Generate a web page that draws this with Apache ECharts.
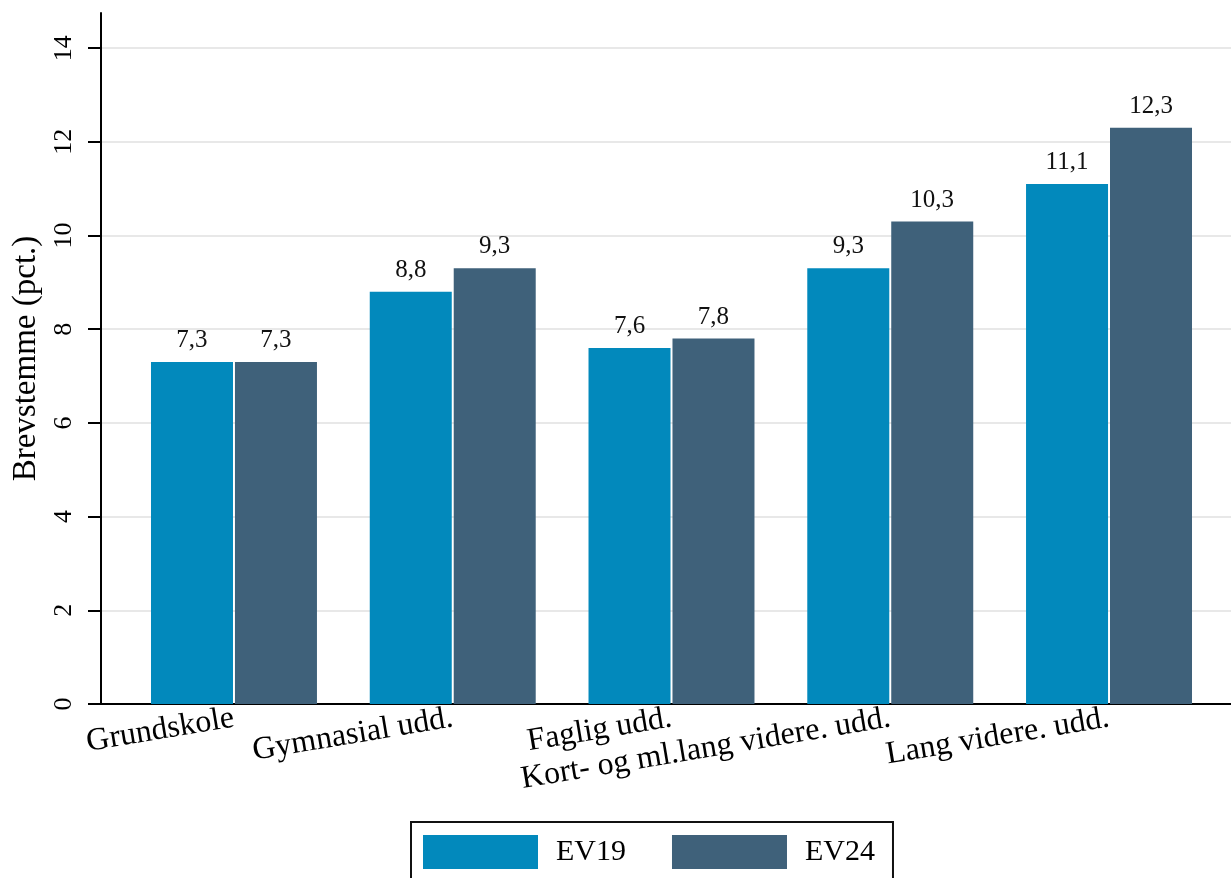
<!DOCTYPE html>
<html>
<head>
<meta charset="utf-8">
<script src="https://cdn.jsdelivr.net/npm/echarts@6/dist/echarts.min.js"></script>
<style>
html,body{margin:0;padding:0;background:#fff;}
#chart{width:1231px;height:878px;}
</style>
</head>
<body>
<div id="chart"></div>
<script>
const categories = ['Grundskole', 'Gymnasial udd.', 'Faglig udd.', 'Kort- og ml.lang videre. udd.', 'Lang videre. udd.'];
const ev19 = [7.3, 8.8, 7.6, 9.3, 11.1];
const ev24 = [7.3, 9.3, 7.8, 10.3, 12.3];
const seriesNames = ['EV19', 'EV24'];
const yTicks = [0, 2, 4, 6, 8, 10, 12, 14];
const yTitle = 'Brevstemme (pct.)';

const serif = 'Liberation Serif, Times New Roman, serif';
const fmt = p => p.value.toFixed(1).replace('.', ',');

const chart = echarts.init(document.getElementById('chart'), null, {renderer: 'canvas'});
const labelStyle = {show: true, position: 'top', distance: 9, fontFamily: serif, fontSize: 25, color: '#111', formatter: fmt};

chart.setOption({
  animation: false,
  backgroundColor: '#fff',
  grid: [
    {left: 101, right: 0, top: 13, bottom: 174},
    {left: 124.6, right: 12.6, top: 13, bottom: 174}
  ],
  xAxis: [
    {gridIndex: 0, type: 'value', min: 0, max: 1,
     axisLine: {show: true, onZero: false, lineStyle: {color: '#000', width: 2}},
     axisTick: {show: false}, axisLabel: {show: false}, splitLine: {show: false}},
    {gridIndex: 1, type: 'category', data: categories,
     axisLine: {show: false}, axisTick: {show: false},
     axisLabel: {interval: 0, rotate: 9.5, margin: 14, fontFamily: serif, fontSize: 32, color: '#000'}}
  ],
  yAxis: [
    {gridIndex: 0, type: 'value', min: 0, max: 14.75,
     name: yTitle, nameLocation: 'middle', nameGap: 58, nameRotate: 90,
     nameTextStyle: {fontFamily: serif, fontSize: 33, color: '#000'},
     axisLine: {show: true, lineStyle: {color: '#000', width: 2}},
     axisTick: {show: true, length: 13, customValues: yTicks, lineStyle: {color: '#000', width: 2}},
     axisLabel: {customValues: yTicks, rotate: 90, margin: 24, fontFamily: serif, fontSize: 26, color: '#000'},
     splitLine: {show: true, lineStyle: {color: '#e8e8e8', width: 2}}},
    {gridIndex: 1, type: 'value', min: 0, max: 14.75, show: false}
  ],
  legend: {
    left: 411, top: 822,
    data: seriesNames,
    orient: 'horizontal',
    borderColor: '#111', borderWidth: 2, borderRadius: 0,
    padding: [13, 18, 13, 12],
    itemWidth: 115, itemHeight: 34, itemGap: 46,
    icon: 'rect',
    textStyle: {fontFamily: serif, fontSize: 30, color: '#000', padding: [0, 0, 0, 13]}
  },
  series: [
    {name: seriesNames[0], type: 'bar', xAxisIndex: 1, yAxisIndex: 1, data: ev19,
     barWidth: 82, barGap: '2.4%', itemStyle: {color: '#0289BC'}, label: labelStyle},
    {name: seriesNames[1], type: 'bar', xAxisIndex: 1, yAxisIndex: 1, data: ev24,
     barWidth: 82, barGap: '2.4%', itemStyle: {color: '#3F617A'}, label: labelStyle}
  ]
});
</script>
</body>
</html>
